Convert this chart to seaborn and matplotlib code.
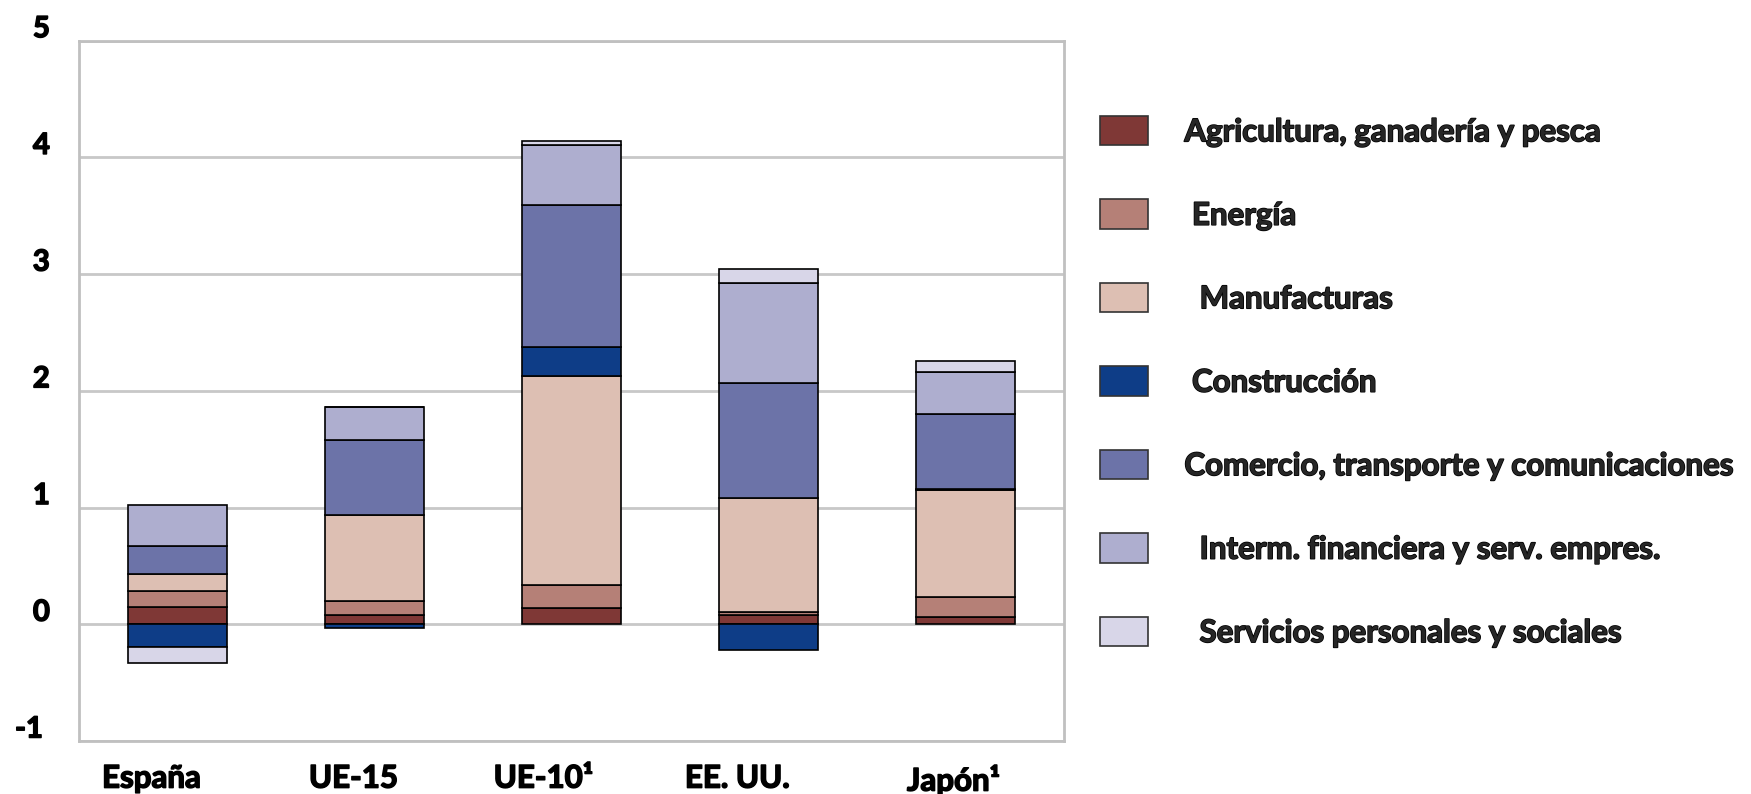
import numpy as np
import pandas as pd
import matplotlib
matplotlib.use("Agg")
import matplotlib.pyplot as plt
import matplotlib.patheffects as pe
import seaborn as sns
from matplotlib.patches import Patch
from matplotlib.transforms import ScaledTranslation

categories = ["España", "UE-15", "UE-10¹", "EE. UU.", "Japón¹"]
sectors = ["Agricultura, ganadería y pesca", "Energía", "Manufacturas", "Construcción",
           "Comercio, transporte y comunicaciones", "Interm. financiera y serv. empres.",
           "Servicios personales y sociales"]
legend_labels = ["Agricultura, ganadería y pesca", " Energía", "  Manufacturas", " Construcción",
                 "Comercio, transporte y comunicaciones", "  Interm. financiera y serv. empres.",
                 "  Servicios personales y sociales"]

agricultura = [0.148, 0.08, 0.137, 0.08, 0.066]
energia = [0.14, 0.12, 0.196, 0.025, 0.165]
manufacturas = [0.145, 0.735, 1.79, 0.975, 0.92]
construccion = [-0.195, -0.03, 0.256, -0.22, 0.01]
comercio = [0.237, 0.64, 1.214, 0.985, 0.638]
interm = [0.356, 0.29, 0.51, 0.855, 0.365]
servicios = [-0.135, 0.0, 0.034, 0.127, 0.09]

colors = ["#7F3836", "#B58077", "#DDBFB3", "#0E3D87", "#6C73A8", "#AEAECF", "#D8D6E8"]
yticks = [-1, 0, 1, 2, 3, 4, 5]
ytick_labels = ["-1 ", "0", "1", "2", "3", "4", "5"]

series = [agricultura, energia, manufacturas, construccion, comercio, interm, servicios]

sns.set_theme(style="white")
FONT = ["Lato", "DejaVu Sans"]
WEIGHT = "bold"
plt.rcParams["font.family"] = FONT
plt.rcParams["font.weight"] = WEIGHT
HEAVY = [pe.withStroke(linewidth=1.1, foreground="black")]

fig = plt.figure(figsize=(17.51, 7.94), dpi=100)
ax = fig.add_axes([79 / 1751, 53 / 794, (1064 - 79) / 1751, (741 - 40.7) / 794])

pos_cum = np.zeros(len(categories))
neg_cum = np.zeros(len(categories))
for vals, col in zip(series, colors):
    v = np.array(vals, dtype=float)
    bottoms = np.where(v >= 0, pos_cum, neg_cum)
    df = pd.DataFrame({"pais": categories, "valor": v})
    sns.barplot(data=df, x="pais", y="valor", order=categories, bottom=bottoms,
                color=col, saturation=1, edgecolor="black", linewidth=1.2,
                width=0.5, errorbar=None, ax=ax, zorder=3)
    pos_cum = pos_cum + np.where(v >= 0, v, 0)
    neg_cum = neg_cum + np.where(v < 0, v, 0)

ax.set_xlim(-0.5, 4.5)
ax.set_ylim(-1, 5)
ax.set_yticks(yticks)
ax.set_yticklabels(ytick_labels)
ax.set_xlabel("")
ax.set_ylabel("")
ax.grid(axis="y", color="#C8C8C8", linewidth=2, zorder=0)
ax.grid(axis="x", visible=False)
ax.set_axisbelow(True)
for s in ax.spines.values():
    s.set_color("#C0C0C0")
    s.set_linewidth(2)
    s.set_visible(True)
ax.tick_params(axis="y", length=0, pad=21, labelsize=21, labelcolor="black")
ax.tick_params(axis="x", length=0, pad=17, labelsize=22.5, labelcolor="black")
for lab in ax.get_yticklabels():
    lab.set_fontweight(WEIGHT)
    lab.set_path_effects(HEAVY)
    lab.set_transform(lab.get_transform() + ScaledTranslation(0, 0.14, fig.dpi_scale_trans))
x_label_shift_px = [-26, -21, -28, -31, -12]
for lab, dx in zip(ax.get_xticklabels(), x_label_shift_px):
    lab.set_fontweight(WEIGHT)
    lab.set_path_effects(HEAVY)
    lab.set_transform(lab.get_transform() + ScaledTranslation(dx / 100, 0, fig.dpi_scale_trans))

handles = [Patch(facecolor=c, edgecolor="#333333", linewidth=1.2) for c in colors]
leg = fig.legend(handles, legend_labels, loc="upper left",
                 bbox_to_anchor=(1100 / 1751, 1 - 116 / 794), frameon=False,
                 prop={"size": 22.5, "weight": WEIGHT, "family": FONT},
                 handlelength=1.52, handleheight=1.07, handletextpad=1.18,
                 labelspacing=1.7, borderpad=0, borderaxespad=0)
for t in leg.get_texts():
    t.set_path_effects(HEAVY)

fig.savefig("out.png", dpi=100)
